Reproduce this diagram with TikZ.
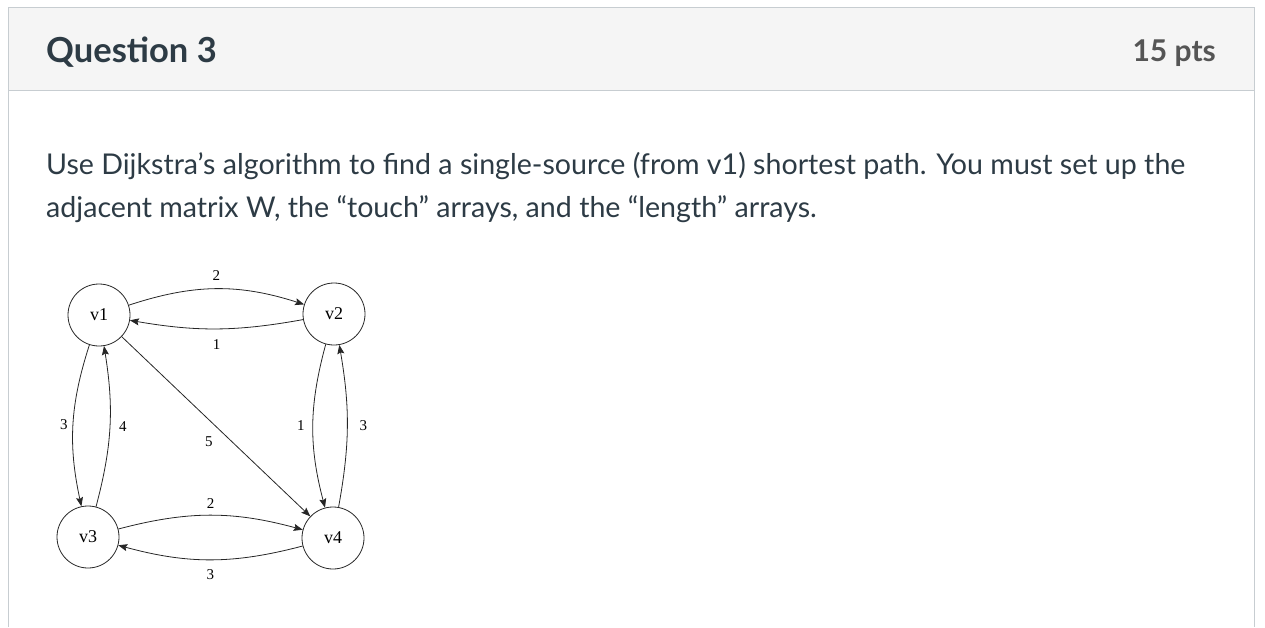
\documentclass[tikz,border=0pt]{standalone}
\usepackage{fontspec}
\setmainfont{Liberation Serif}
\newfontfamily\latofont{Lato}
\usepackage{xcolor}
\usetikzlibrary{positioning}
\usetikzlibrary{arrows.meta}
\definecolor{canvastext}{HTML}{2D3B45}
\definecolor{ptstext}{HTML}{555555}
\definecolor{headfill}{HTML}{F5F5F5}
\definecolor{boxline}{HTML}{C7CDD1}

\begin{document}
\begin{tikzpicture}[x=1pt,y=-1pt,
	vertex/.style={draw=black!85,line width=0.8pt,circle,minimum size=62pt,inner sep=0pt,font=\fontsize{18}{18}\selectfont},
	wt/.style={font=\fontsize{15}{15}\selectfont,inner sep=1pt},
	every edge/.style={draw=black!85,line width=0.8pt,-{Stealth[length=9pt,width=7pt,inset=1.5pt]}}]
	\useasboundingbox (0,0) rectangle (1265,627);
	
	\fill[headfill] (8,7) rectangle (1254,90);
	\draw[boxline] (8,627) -- (8,7) -- (1254,7) -- (1254,627);
	\draw[boxline] (8,90) -- (1254,90);
	
	\node[anchor=base west,inner sep=0pt,text=canvastext,font=\latofont\bfseries\fontsize{34.5}{34.5}\selectfont] (title) at (46,62) {Question 3};
	\node[anchor=base east,inner sep=0pt,text=ptstext,font=\latofont\bfseries\fontsize{30}{30}\selectfont] (pts) at (1216,61) {15 pts};
	
	\node[anchor=base west,inner sep=0pt,text=canvastext,font=\latofont\fontsize{28.6}{28.6}\selectfont] (line a) at (46,174) {Use Dijkstra’s algorithm to find a single-source (from v1) shortest path. You must set up the};
	\node[anchor=base west,inner sep=0pt,text=canvastext,font=\latofont\fontsize{28.6}{28.6}\selectfont] (line b) at (46,217) {adjacent matrix W, the “touch” arrays, and the “length” arrays.};
	
	\node[vertex] (v1) at (99,315) {v1};
	\node[vertex] (v2) at (334,314) {v2};
	\node[vertex] (v3) at (88,537) {v3};
	\node[vertex] (v4) at (333,538) {v4};
	
	\path (v1) edge[bend left=18] node[wt,above=7pt] {2} (v2)
	      (v2) edge[bend left=10] node[wt,below=9pt] {1} (v1)
	      (v1) edge[bend right=15] node[wt,left=4pt] {3} (v3)
	      (v3) edge[bend right=12] node[wt,right=8pt] {4} (v1)
	      (v1) edge node[wt,pos=0.52,below left=8pt] {5} (v4)
	      (v2) edge[bend right=15] node[wt,left=7pt] {1} (v4)
	      (v4) edge[bend right=10] node[wt,right=11pt] {3} (v2)
	      (v3) edge[bend left=15] node[wt,above=5pt] {2} (v4)
	      (v4) edge[bend left=15] node[wt,below=9pt] {3} (v3);
\end{tikzpicture}
\end{document}
